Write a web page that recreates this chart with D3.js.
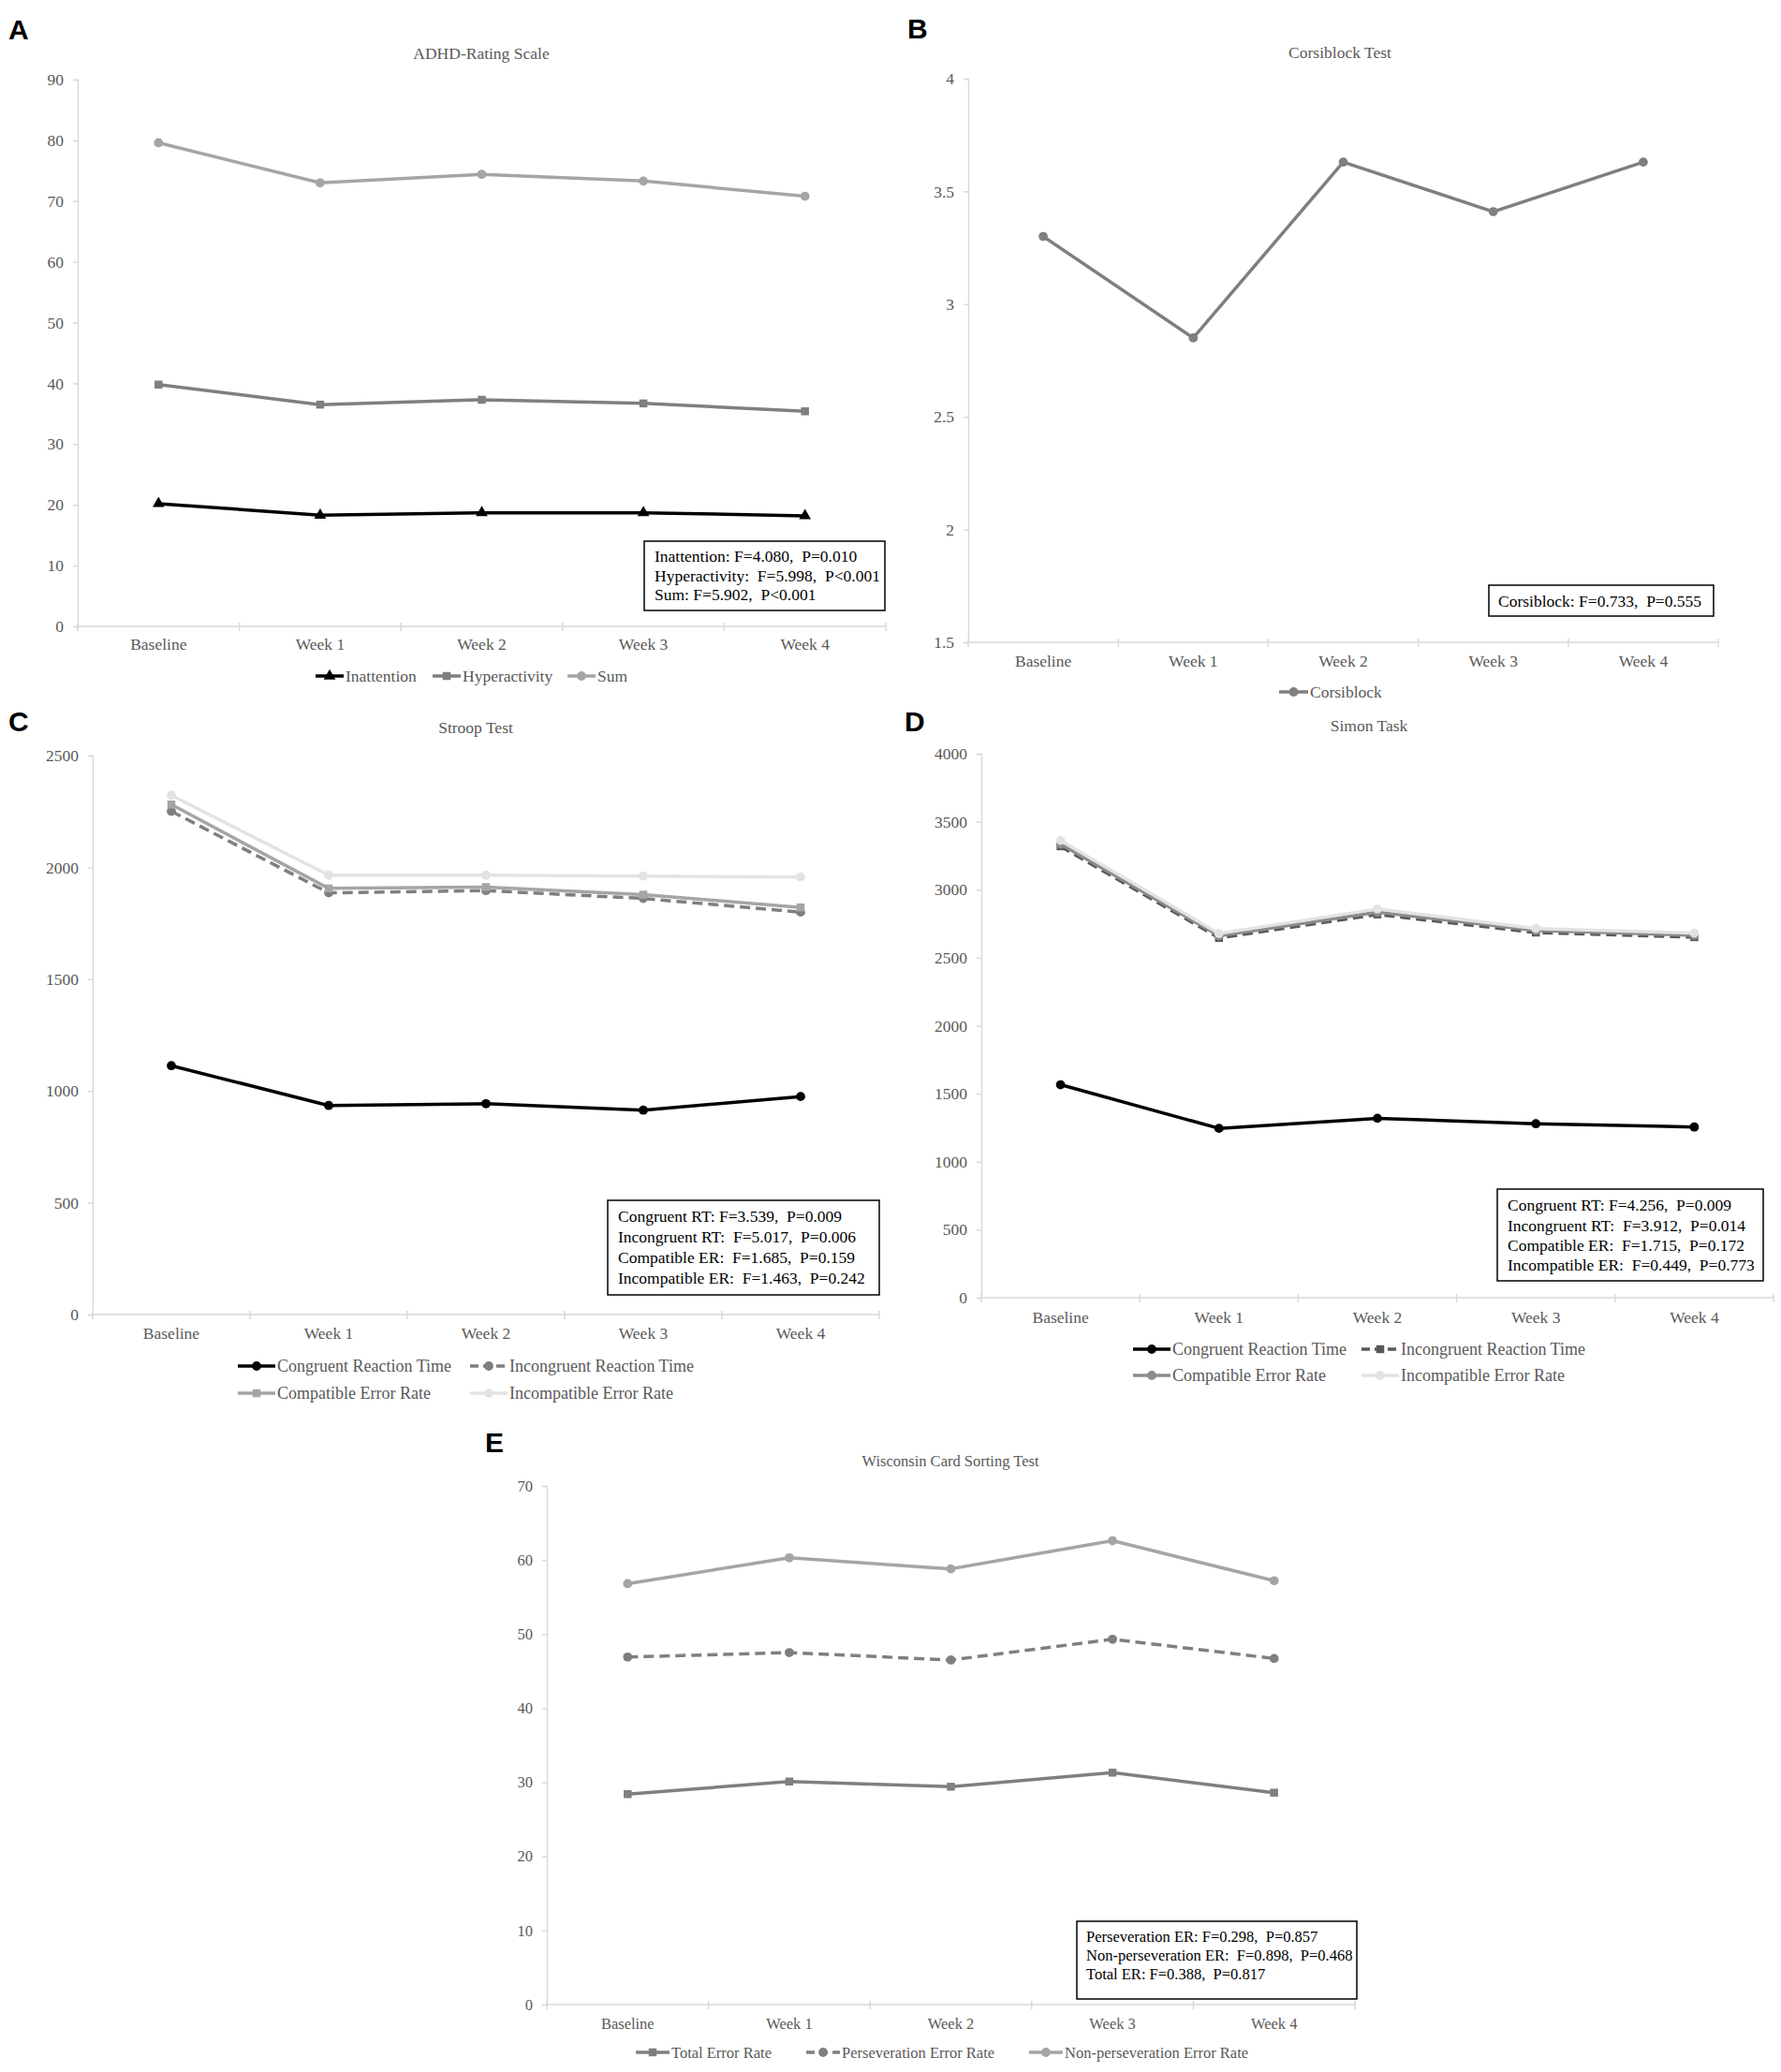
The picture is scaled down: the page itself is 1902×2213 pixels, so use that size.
<!DOCTYPE html>
<html><head><meta charset="utf-8">
<script src="https://cdn.jsdelivr.net/npm/d3@7"></script>
<style>body{margin:0;background:#fff} svg{display:block}</style>
</head><body>
<script>
// ---------------- DATA ----------------
const categories = ["Baseline", "Week 1", "Week 2", "Week 3", "Week 4"];

// Panel A: ADHD-Rating Scale
const adhdInattention   = [20.2, 18.3, 18.7, 18.7, 18.2];
const adhdHyperactivity = [39.8, 36.5, 37.3, 36.7, 35.4];
const adhdSum           = [79.6, 73.0, 74.4, 73.3, 70.8];
const adhdTicks = [0, 10, 20, 30, 40, 50, 60, 70, 80, 90];
const adhdStats = ["Inattention: F=4.080,  P=0.010", "Hyperactivity:  F=5.998,  P<0.001", "Sum: F=5.902,  P<0.001"];

// Panel B: Corsiblock Test
const corsiblock = [3.30, 2.85, 3.63, 3.41, 3.63];
const corsiTicks = [1.5, 2, 2.5, 3, 3.5, 4];
const corsiStats = ["Corsiblock: F=0.733,  P=0.555"];

// Panel C: Stroop Test
const stroopCongruentRT    = [1113, 935, 943, 914, 975];
const stroopIncongruentRT  = [2251, 1886, 1896, 1861, 1800];
const stroopCompatibleER   = [2281, 1906, 1912, 1878, 1821];
const stroopIncompatibleER = [2322, 1965, 1965, 1961, 1957];
const stroopTicks = [0, 500, 1000, 1500, 2000, 2500];
const stroopStats = ["Congruent RT: F=3.539,  P=0.009", "Incongruent RT:  F=5.017,  P=0.006", "Compatible ER:  F=1.685,  P=0.159", "Incompatible ER:  F=1.463,  P=0.242"];

// Panel D: Simon Task
const simonCongruentRT    = [1566, 1245, 1319, 1279, 1255];
const simonIncongruentRT  = [3319, 2645, 2818, 2685, 2651];
const simonCompatibleER   = [3336, 2661, 2835, 2701, 2665];
const simonIncompatibleER = [3362, 2678, 2858, 2715, 2681];
const simonTicks = [0, 500, 1000, 1500, 2000, 2500, 3000, 3500, 4000];
const simonStats = ["Congruent RT: F=4.256,  P=0.009", "Incongruent RT:  F=3.912,  P=0.014", "Compatible ER:  F=1.715,  P=0.172", "Incompatible ER:  F=0.449,  P=0.773"];

// Panel E: Wisconsin Card Sorting Test
const wcstTotalER             = [28.4, 30.1, 29.4, 31.3, 28.6];
const wcstPerseverationER     = [46.9, 47.5, 46.5, 49.3, 46.7];
const wcstNonPerseverationER  = [56.8, 60.3, 58.8, 62.6, 57.2];
const wcstTicks = [0, 10, 20, 30, 40, 50, 60, 70];
const wcstStats = ["Perseveration ER: F=0.298,  P=0.857", "Non-perseveration ER:  F=0.898,  P=0.468", "Total ER: F=0.388,  P=0.817"];

// ---------------- DRAWING ----------------
const SERIF = "'Liberation Serif','Times New Roman',serif";
const TXT = "#595959";
const svg = d3.select("body").append("svg").attr("width", 1902).attr("height", 2213);

const symbols = {circle: d3.symbolCircle, square: d3.symbolSquare, triangle: d3.symbolTriangle};
const symSize = {circle: 75, square: 72, triangle: 70};

function panel(cfg) {
  const g = svg.append("g");
  const fs = cfg.fs;
  const x = d3.scaleBand().domain(categories).range([cfg.left, cfg.right]);
  const y = d3.scaleLinear().domain(d3.extent(cfg.ticks)).range([cfg.bottom, cfg.top]);
  const cx = c => x(c) + x.bandwidth() / 2;

  // panel letter
  g.append("text").attr("x", cfg.letter[0]).attr("y", cfg.letter[1]).text(cfg.letterText)
    .attr("font-family", "'Liberation Sans',Arial,sans-serif").attr("font-weight", "bold")
    .attr("font-size", 30).attr("fill", "#000");

  // title
  g.append("text").attr("x", cfg.title[0]).attr("y", cfg.title[1]).attr("dy", "0.35em")
    .attr("text-anchor", "middle").attr("font-family", SERIF).attr("font-size", fs)
    .attr("fill", TXT).text(cfg.titleText);

  // y axis
  const ya = g.append("g").attr("transform", `translate(${cfg.left},0)`)
    .call(d3.axisLeft(y).tickValues(cfg.ticks).tickSize(5).tickPadding(10).tickFormat(d => String(d)));
  ya.select(".domain").attr("stroke", "#d9d9d9").attr("stroke-width", 1.5);
  ya.selectAll(".tick line").attr("stroke", "#d9d9d9").attr("stroke-width", 1.5);
  ya.selectAll(".tick text").attr("font-family", SERIF).attr("font-size", fs).attr("fill", TXT);

  // x axis line with boundary tick marks
  const xa = g.append("g");
  xa.append("line").attr("x1", cfg.left).attr("x2", cfg.right).attr("y1", y(cfg.ticks[0])).attr("y2", y(cfg.ticks[0]))
    .attr("stroke", "#d9d9d9").attr("stroke-width", 1.5);
  const bounds = categories.map(c => x(c)).concat([x.range()[1]]);
  xa.selectAll("line.b").data(bounds).join("line").attr("class", "b")
    .attr("x1", d => d).attr("x2", d => d)
    .attr("y1", y(cfg.ticks[0]) - 4).attr("y2", y(cfg.ticks[0]) + 5)
    .attr("stroke", "#d9d9d9").attr("stroke-width", 1.5);
  xa.selectAll("text").data(categories).join("text")
    .attr("x", d => cx(d)).attr("y", cfg.catY).attr("dy", "0.35em").attr("text-anchor", "middle")
    .attr("font-family", SERIF).attr("font-size", fs).attr("fill", TXT).text(d => d);

  // series
  const line = d3.line().x((d, i) => cx(categories[i])).y(d => y(d));
  cfg.series.forEach(s => {
    g.append("path").datum(s.values).attr("d", line).attr("fill", "none")
      .attr("stroke", s.color).attr("stroke-width", 3.5).attr("stroke-linejoin", "round")
      .attr("stroke-dasharray", s.dash ? "11,6" : null);
    g.selectAll(null).data(s.values).join("path")
      .attr("d", d3.symbol(symbols[s.marker], symSize[s.marker]))
      .attr("transform", (d, i) => `translate(${cx(categories[i])},${y(d)})`)
      .attr("fill", s.color);
  });

  // legend
  cfg.series.forEach((s, i) => {
    const [lx, ly] = cfg.legend[i];
    const L = cfg.legendLen;
    g.append("line").attr("x1", lx).attr("x2", lx + L).attr("y1", ly).attr("y2", ly)
      .attr("stroke", s.color).attr("stroke-width", 3.5).attr("stroke-dasharray", s.dash ? "9,5" : null);
    g.append("path").attr("d", d3.symbol(symbols[s.marker], symSize[s.marker])())
      .attr("transform", `translate(${lx + L / 2},${ly})`).attr("fill", s.color);
    g.append("text").attr("x", lx + L + 2).attr("y", ly).attr("dy", "0.35em")
      .attr("font-family", SERIF).attr("font-size", cfg.legendFs || fs).attr("fill", TXT).text(s.name);
  });

  // stats box
  const b = cfg.box;
  g.append("rect").attr("x", b.x).attr("y", b.y).attr("width", b.w).attr("height", b.h)
    .attr("fill", "#fff").attr("stroke", "#000").attr("stroke-width", 1.5);
  g.selectAll(null).data(cfg.stats).join("text")
    .attr("x", b.tx).attr("y", (d, i) => b.ty + i * b.dy).attr("dy", "0.35em")
    .attr("font-family", SERIF).attr("font-size", cfg.statFs || fs).attr("fill", "#000")
    .attr("xml:space", "preserve").style("white-space", "pre").text(d => d);
}

// Panel A
panel({
  letterText: "A", letter: [9, 42], titleText: "ADHD-Rating Scale", title: [514, 57],
  left: 83, right: 946, top: 85, bottom: 669, ticks: adhdTicks, catY: 688, fs: 17.5,
  series: [
    {name: "Inattention", values: adhdInattention, color: "#000000", marker: "triangle"},
    {name: "Hyperactivity", values: adhdHyperactivity, color: "#7f7f7f", marker: "square"},
    {name: "Sum", values: adhdSum, color: "#a5a5a5", marker: "circle"}
  ],
  legend: [[337, 722], [462, 722], [606, 722]], legendLen: 30,
  box: {x: 688, y: 578, w: 257, h: 74, tx: 699, ty: 594, dy: 20.5}, stats: adhdStats
});

// Panel B
panel({
  letterText: "B", letter: [969, 41], titleText: "Corsiblock Test", title: [1431, 56],
  left: 1034, right: 1835, top: 84, bottom: 686, ticks: corsiTicks, catY: 706, fs: 17.5,
  series: [
    {name: "Corsiblock", values: corsiblock, color: "#7f7f7f", marker: "circle"}
  ],
  legend: [[1366, 739]], legendLen: 31,
  box: {x: 1590, y: 625, w: 240, h: 33, tx: 1600, ty: 642, dy: 20}, stats: corsiStats
});

// Panel C
panel({
  letterText: "C", letter: [9, 781], titleText: "Stroop Test", title: [508, 777],
  left: 99, right: 939, top: 807, bottom: 1404, ticks: stroopTicks, catY: 1424, fs: 17.5, legendFs: 18,
  series: [
    {name: "Congruent Reaction Time", values: stroopCongruentRT, color: "#000000", marker: "circle"},
    {name: "Incongruent Reaction Time", values: stroopIncongruentRT, color: "#7f7f7f", marker: "circle", dash: true},
    {name: "Compatible Error Rate", values: stroopCompatibleER, color: "#a5a5a5", marker: "square"},
    {name: "Incompatible Error Rate", values: stroopIncompatibleER, color: "#e3e3e3", marker: "circle"}
  ],
  legend: [[254, 1459], [502, 1459], [254, 1488], [502, 1488]], legendLen: 40,
  box: {x: 649, y: 1282, w: 290, h: 101, tx: 660, ty: 1299, dy: 21.8}, stats: stroopStats
});

// Panel D
panel({
  letterText: "D", letter: [966, 781], titleText: "Simon Task", title: [1462, 775],
  left: 1048, right: 1894, top: 805, bottom: 1386, ticks: simonTicks, catY: 1407, fs: 17.5, legendFs: 18,
  series: [
    {name: "Congruent Reaction Time", values: simonCongruentRT, color: "#000000", marker: "circle"},
    {name: "Incongruent Reaction Time", values: simonIncongruentRT, color: "#595959", marker: "square", dash: true},
    {name: "Compatible Error Rate", values: simonCompatibleER, color: "#8c8c8c", marker: "circle"},
    {name: "Incompatible Error Rate", values: simonIncompatibleER, color: "#e3e3e3", marker: "circle"}
  ],
  legend: [[1210, 1441], [1454, 1441], [1210, 1469], [1454, 1469]], legendLen: 40,
  box: {x: 1599, y: 1270, w: 284, h: 98, tx: 1610, ty: 1287, dy: 21.4}, stats: simonStats
});

// Panel E
panel({
  letterText: "E", letter: [518, 1551], titleText: "Wisconsin Card Sorting Test", title: [1015, 1560],
  left: 584, right: 1447, top: 1587, bottom: 2141, ticks: wcstTicks, catY: 2161, fs: 16.5,
  series: [
    {name: "Total Error Rate", values: wcstTotalER, color: "#7f7f7f", marker: "square"},
    {name: "Perseveration Error Rate", values: wcstPerseverationER, color: "#7f7f7f", marker: "circle", dash: true},
    {name: "Non-perseveration Error Rate", values: wcstNonPerseverationER, color: "#a5a5a5", marker: "circle"}
  ],
  legend: [[679, 2192], [861, 2192], [1099, 2192]], legendLen: 36,
  box: {x: 1150, y: 2052, w: 299, h: 83, tx: 1160, ty: 2068, dy: 20}, stats: wcstStats
});
</script>
</body></html>
